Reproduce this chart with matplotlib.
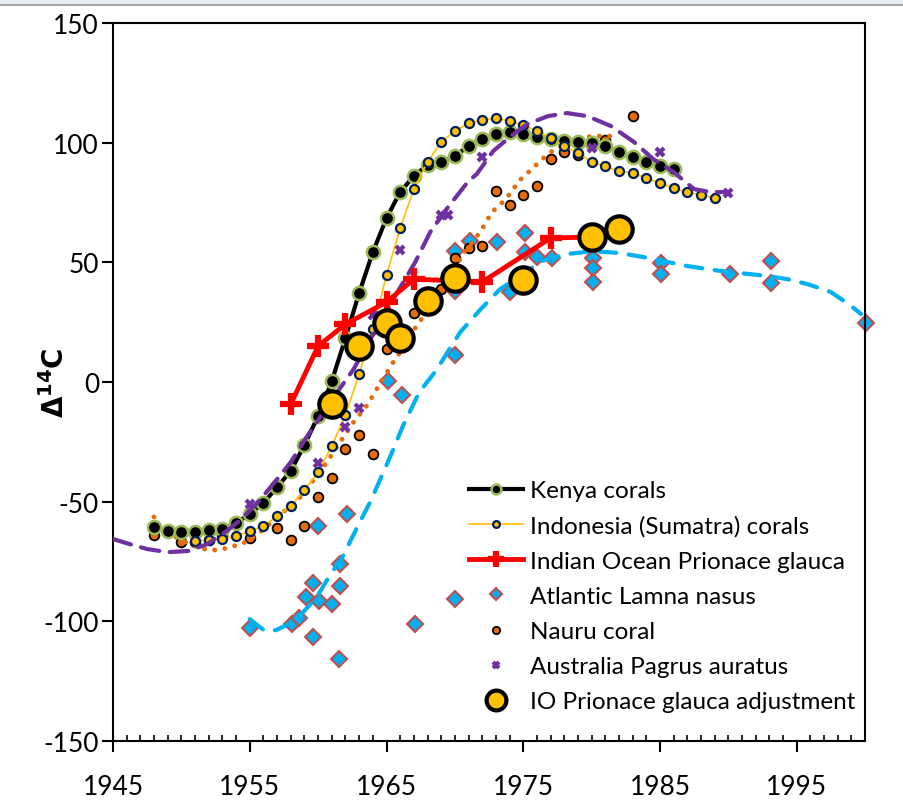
import numpy as np
import matplotlib.pyplot as plt
from matplotlib.lines import Line2D
from matplotlib.patches import Rectangle

plt.rcParams['font.family'] = ['Lato', 'DejaVu Sans']
plt.rcParams['axes.unicode_minus'] = False

# Kenya corals
kenya_yr = np.arange(1948, 1987)
kenya_d14c = [-60.6, -62.3, -62.7, -62.7, -62.0, -61.4, -59.0, -55.2, -50.6, -43.9,
              -37.2, -26.3, -14.2, 0.4, 18.4, 37.2, 54.3, 68.5, 79.4, 86.1,
              90.7, 91.9, 94.4, 98.6, 101.5, 103.6, 104.5, 103.6, 102.4, 101.5,
              100.7, 100.3, 99.9, 98.6, 96.1, 94.0, 91.9, 90.2, 89.0]

# Indonesia (Sumatra) corals
indo_yr = np.arange(1951, 1990)
indo_d14c = [-66.5, -66.0, -65.6, -64.4, -62.3, -60.2, -56.0, -51.8, -45.2, -37.6,
             -26.8, -13.8, 3.3, 22.0, 44.7, 64.3, 80.6, 91.9, 100.3, 104.9,
             108.2, 109.5, 110.3, 109.0, 107.4, 104.9, 101.9, 98.6, 95.7, 91.9,
             90.2, 88.2, 87.3, 85.2, 83.1, 81.0, 79.4, 78.1, 76.9]

# Indian Ocean Prionace glauca
io_yr = [1958, 1960, 1962, 1965, 1967, 1972, 1977, 1980, 1982]
io_d14c = [-9.2, 15.0, 24.2, 33.4, 43.0, 41.8, 60.2, 60.6, 63.9]

# IO Prionace glauca adjustment
adj_yr = [1961, 1963, 1965, 1966, 1968, 1970, 1975, 1980, 1982]
adj_d14c = [-9.2, 15.0, 24.6, 18.4, 33.8, 43.4, 42.6, 60.6, 63.9]

# Atlantic Lamna nasus
lamna_yr = [1955, 1958.1, 1958.6, 1959.1, 1959.6, 1960.1, 1959.6, 1961.0, 1961.6,
            1961.6, 1961.5, 1960.0, 1962.1, 1967.1, 1970.0, 1965.1, 1966.1, 1970.0,
            1970.0, 1970.0, 1971.1, 1973.1, 1974.0, 1975.1, 1975.1, 1976.0, 1977.1,
            1980.1, 1980.1, 1980.1, 1985.1, 1985.1, 1990.1, 1993.1, 1993.1, 2000.1]
lamna_d14c = [-102.8, -101.2, -98.6, -89.9, -84.0, -91.5, -106.6, -92.8, -85.3,
              -76.1, -115.8, -60.2, -55.2, -101.2, -90.7, 0.4, -5.5, 11.3,
              38.0, 54.7, 58.9, 58.5, 37.6, 62.2, 54.3, 52.2, 51.8,
              51.8, 47.6, 41.8, 49.7, 45.1, 45.1, 50.5, 41.3, 24.6]

# Lamna nasus reference curve
lamna_fit_yr = [1955.0, 1956.1, 1956.9, 1958.3, 1959.9, 1961.0, 1961.6, 1962.9, 1963.8,
                1965.1, 1966.2, 1967.4, 1968.6, 1970.4, 1971.9, 1973.3, 1974.8, 1976.3,
                1978.2, 1980.1, 1982.1, 1983.8, 1985.6, 1987.0, 1988.9, 1990.9, 1992.9,
                1994.3, 1995.8, 1997.5, 1999.0, 1999.7]
lamna_fit_d14c = [-99.1, -104.0, -103.7, -100.0, -89.9, -79.4, -75.2, -60.2, -50.2,
                  -33.5, -18.4, -4.2, 4.6, 20.9, 30.5, 38.8, 44.3, 50.5,
                  53.5, 54.7, 53.9, 52.2, 50.1, 48.5, 46.8, 45.5, 44.3,
                  43.0, 40.9, 37.6, 31.7, 28.4]

# Nauru coral
nauru_yr = [1948, 1949, 1950, 1951, 1952, 1953, 1955, 1957, 1958, 1959, 1960, 1961,
            1962, 1963, 1964, 1965, 1967, 1969, 1970, 1971, 1972, 1973, 1974, 1975,
            1976, 1977, 1978, 1979, 1980, 1981, 1982, 1983]
nauru_d14c = [-64, -62, -67, -67, -66, -64, -65, -61, -66, -60, -48, -40,
              -28, -22, -30, 14, 29, 39, 52, 56, 57, 80, 74, 78,
              82, 93, 96, 95, 100, 101, 96, 111]

# Nauru reference curve
nauru_fit_yr = [1948.0, 1948.4, 1949.7, 1950.6, 1951.9, 1952.7, 1953.6, 1954.7, 1955.6,
                1956.7, 1957.7, 1958.7, 1959.6, 1960.7, 1961.6, 1962.6, 1963.6, 1964.5,
                1965.4, 1966.0, 1966.7, 1967.2, 1968.7, 1969.5, 1970.0, 1970.4, 1971.9,
                1972.7, 1973.5, 1974.2, 1974.6, 1975.7, 1976.8, 1978.2, 1979.2, 1980.1,
                1981.2, 1982.0]
nauru_fit_d14c = [-56.4, -60.2, -65.2, -67.7, -70.2, -70.2, -69.0, -66.9, -63.5,
                  -58.1, -53.1, -48.1, -41.4, -33.0, -25.1, -16.7, -9.6, -0.9,
                  7.5, 12.5, 19.2, 23.4, 35.5, 40.1, 45.0, 52.2, 63.1,
                  71.0, 75.2, 79.8, 83.6, 89.4, 95.3, 100.3, 101.9, 102.8,
                  102.8, 102.4]

# Australia Pagrus auratus
pagrus_yr = [1955, 1960, 1962, 1963, 1964, 1966, 1969, 1969.5, 1972, 1980, 1985, 1990]
pagrus_d14c = [-51, -34, -19, -11, 28, 55, 70, 70, 94, 98, 96, 79]

# Pagrus reference curve
pagrus_fit_yr = [1945.0, 1946.2, 1947.5, 1949.0, 1950.5, 1951.9, 1953.3, 1954.4, 1955.8,
                 1957.0, 1958.0, 1959.2, 1960.4, 1961.4, 1962.6, 1963.8, 1964.7, 1965.5,
                 1967.1, 1968.2, 1969.5, 1971.0, 1971.6, 1972.8, 1974.1, 1975.3, 1976.8,
                 1978.2, 1979.7, 1981.4, 1983.1, 1984.5, 1986.0, 1987.5, 1988.7, 1989.9]
pagrus_fit_d14c = [-65.6, -67.7, -69.8, -71.1, -70.6, -67.7, -62.3, -57.3, -48.9,
                   -40.6, -33.5, -22.6, -12.6, -4.2, 5.4, 17.9, 25.5, 34.7,
                   50.1, 62.7, 73.1, 84.0, 86.9, 96.5, 102.8, 107.8, 111.1,
                   112.4, 111.1, 107.0, 100.3, 93.2, 87.7, 80.6, 79.4, 79.4]

fig = plt.figure(figsize=(9.04, 8.03), dpi=100)
ax = fig.add_axes([0.125, 0.076, 0.832, 0.894])

# strip of slide picture at the top
fig.add_artist(Rectangle((0, 0.992), 1, 0.008, transform=fig.transFigure,
                         color='#e4ecf2', lw=0))
fig.add_artist(Line2D([0, 1], [0.992, 0.992], transform=fig.transFigure,
                      color='#a6a6a6', lw=1.5))

ax.plot(lamna_yr, lamna_d14c, ls='none', marker='D', ms=8, mfc='#00b0f0',
        mec='#c0504d', mew=1.5, zorder=2, clip_on=False, label='Atlantic Lamna nasus')
ax.plot(lamna_fit_yr, lamna_fit_d14c, color='#00b0f0', lw=3, ls=(0, (4, 3)),
        dash_capstyle='round', zorder=3)
ax.plot(nauru_yr, nauru_d14c, ls='none', marker='o', ms=7, mfc='#e46c0a',
        mec='black', mew=1.3, zorder=3, label='Nauru coral')
ax.plot(nauru_fit_yr, nauru_fit_d14c, color='#e46c0a', lw=3.5, ls=(0, (0.01, 2.1)),
        dash_capstyle='round', zorder=4)
ax.plot(kenya_yr, kenya_d14c, color='black', lw=3, marker='o', ms=9.5,
        mfc='black', mec='#9bbb59', mew=1.8, zorder=4, label='Kenya corals')
ax.plot(indo_yr, indo_d14c, color='#ffc000', lw=1.2, marker='o', ms=6.5,
        mfc='#ffc000', mec='#002060', mew=1.6, zorder=5,
        label='Indonesia (Sumatra) corals')
ax.plot(pagrus_yr, pagrus_d14c, ls='none', marker='x', ms=6, mec='#7030a0',
        mew=3, zorder=6, label='Australia Pagrus auratus')
ax.plot(pagrus_fit_yr, pagrus_fit_d14c, color='#7030a0', lw=3, ls=(0, (4.5, 2.5)),
        dash_capstyle='round', zorder=6)
ax.plot(io_yr, io_d14c, color='#ff0000', lw=3.5, marker='+', ms=16, mew=4.5,
        zorder=7, label='Indian Ocean Prionace glauca')
ax.plot(adj_yr, adj_d14c, ls='none', marker='o', ms=19, mfc='#ffc000',
        mec='black', mew=3, zorder=8, label='IO Prionace glauca adjustment')

ax.set_xlim(1945, 2000)
ax.set_ylim(-150, 150)
ax.set_xticks(np.arange(1945, 2000, 10))
ax.set_xticks(np.arange(1945, 2001, 1), minor=True)
ax.set_yticks(np.arange(-150, 151, 50))
ax.tick_params(axis='both', which='major', direction='out', length=8, width=1.5,
               labelsize=19, color='black')
ax.tick_params(axis='x', which='major', pad=16)
ax.tick_params(axis='y', which='major', pad=2)
ax.tick_params(axis='x', which='minor', direction='in', length=4, width=1.2)
for sp in ax.spines.values():
    sp.set_linewidth(1.5)
    sp.set_color('black')

ax.set_ylabel(r'$\mathbf{\Delta^{14}C}$', fontsize=20)
ax.yaxis.set_label_coords(-0.059, 0.5)

handles, labels = ax.get_legend_handles_labels()
order = ['Kenya corals', 'Indonesia (Sumatra) corals', 'Indian Ocean Prionace glauca',
         'Atlantic Lamna nasus', 'Nauru coral', 'Australia Pagrus auratus',
         'IO Prionace glauca adjustment']
hmap = dict(zip(labels, handles))
leg = ax.legend([hmap[k] for k in order], order, loc='upper left',
                bbox_to_anchor=(0.461, 0.377), frameon=False, fontsize=17.5,
                handlelength=2.2, handletextpad=0.3, labelspacing=0.58,
                markerscale=0.75, borderaxespad=0)

fig.savefig('out.png', dpi=100)
